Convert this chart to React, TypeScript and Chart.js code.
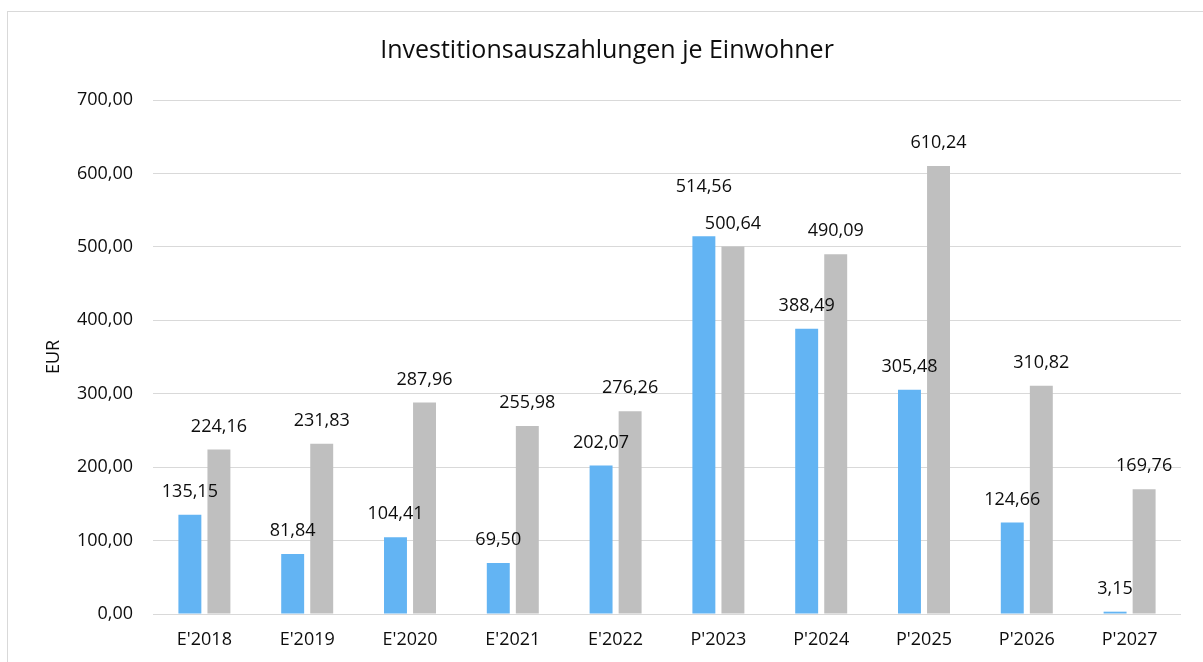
import React, { useEffect, useRef } from "react";
import { Chart, registerables } from "chart.js";

Chart.register(...registerables);

const chartTitle = "Investitionsauszahlungen je Einwohner";
const yAxisTitle = "EUR";
const categories = ["E'2018", "E'2019", "E'2020", "E'2021", "E'2022", "P'2023", "P'2024", "P'2025", "P'2026", "P'2027"];
const seriesBlue = [135.15, 81.84, 104.41, 69.5, 202.07, 514.56, 388.49, 305.48, 124.66, 3.15];
const seriesGray = [224.16, 231.83, 287.96, 255.98, 276.26, 500.64, 490.09, 610.24, 310.82, 169.76];
const yMin = 0;
const yMax = 700;
const yStep = 100;

const FONT = "'Open Sans', 'DejaVu Sans', sans-serif";
const TEXT = "#0d0d0d";
const fmt = (v: number) => v.toFixed(2).replace(".", ",");

const decorPlugin = {
  id: "decor",
  beforeDraw(chart: any) {
    const ctx = chart.ctx;
    ctx.save();
    ctx.fillStyle = "#ffffff";
    ctx.fillRect(0, 0, chart.width, chart.height);
    ctx.strokeStyle = "#d9d9d9";
    ctx.lineWidth = 1;
    ctx.strokeRect(7.5, 11.5, chart.width + 50, chart.height + 50);
    ctx.fillStyle = TEXT;
    ctx.font = `25px ${FONT}`;
    ctx.textAlign = "center";
    ctx.textBaseline = "middle";
    ctx.fillText(chartTitle, 607, 51);
    ctx.restore();
  },
  afterDatasetsDraw(chart: any) {
    const ctx = chart.ctx;
    ctx.save();
    ctx.font = `18px ${FONT}`;
    ctx.fillStyle = TEXT;
    ctx.textAlign = "center";
    ctx.textBaseline = "middle";
    const n = chart.data.labels.length;
    const metas = chart.data.datasets.map((_: any, i: number) => chart.getDatasetMeta(i));
    for (let j = 0; j < n; j++) {
      const pos = metas.map((m: any, i: number) => {
        const el = m.data[j];
        return { x: el.x, y: el.y - 23, v: chart.data.datasets[i].data[j] };
      });
      if (pos.length === 2 && Math.abs(pos[0].y - pos[1].y) < 22) {
        if (pos[0].y < pos[1].y) pos[0].y = pos[1].y - 37;
        else pos[1].y = pos[0].y - 37;
      }
      pos.forEach((p: any) => ctx.fillText(fmt(p.v), p.x, p.y));
    }
    ctx.restore();
  },
};

export default function App() {
  const ref = useRef<HTMLCanvasElement | null>(null);
  useEffect(() => {
    if (!ref.current) return;
    const chart = new Chart(ref.current, {
      type: "bar",
      data: {
        labels: categories,
        datasets: [
          { data: seriesBlue, backgroundColor: "#63b4f3", categoryPercentage: 0.565, barPercentage: 0.79 },
          { data: seriesGray, backgroundColor: "#bfbfbf", categoryPercentage: 0.565, barPercentage: 0.79 },
        ],
      },
      options: {
        responsive: false,
        animation: false,
        layout: { padding: { left: 0, right: 22, top: 100, bottom: 0 } },
        plugins: { legend: { display: false }, title: { display: false }, tooltip: { enabled: false } },
        scales: {
          x: {
            grid: { display: false, drawTicks: false },
            border: { display: false },
            ticks: { color: TEXT, font: { family: FONT, size: 18 }, padding: 15, maxRotation: 0 },
            afterFit: (s: any) => { s.height = 48; },
          },
          y: {
            min: yMin,
            max: yMax,
            grid: { color: "#d9d9d9", lineWidth: 1, drawTicks: false },
            border: { display: false },
            ticks: { stepSize: yStep, color: TEXT, font: { family: FONT, size: 18 }, padding: 20, callback: (v: any) => fmt(Number(v)) },
            title: { display: true, text: yAxisTitle, color: TEXT, font: { family: FONT, size: 18 }, padding: { top: 43, bottom: 0 } },
            afterFit: (s: any) => { s.width = 153; },
          },
        },
      },
      plugins: [decorPlugin],
    });
    return () => chart.destroy();
  }, []);
  return (
    <canvas
      ref={ref}
      width={1203}
      height={662}
      style={{ position: "absolute", left: 0, top: 0, display: "block" }}
    />
  );
}
